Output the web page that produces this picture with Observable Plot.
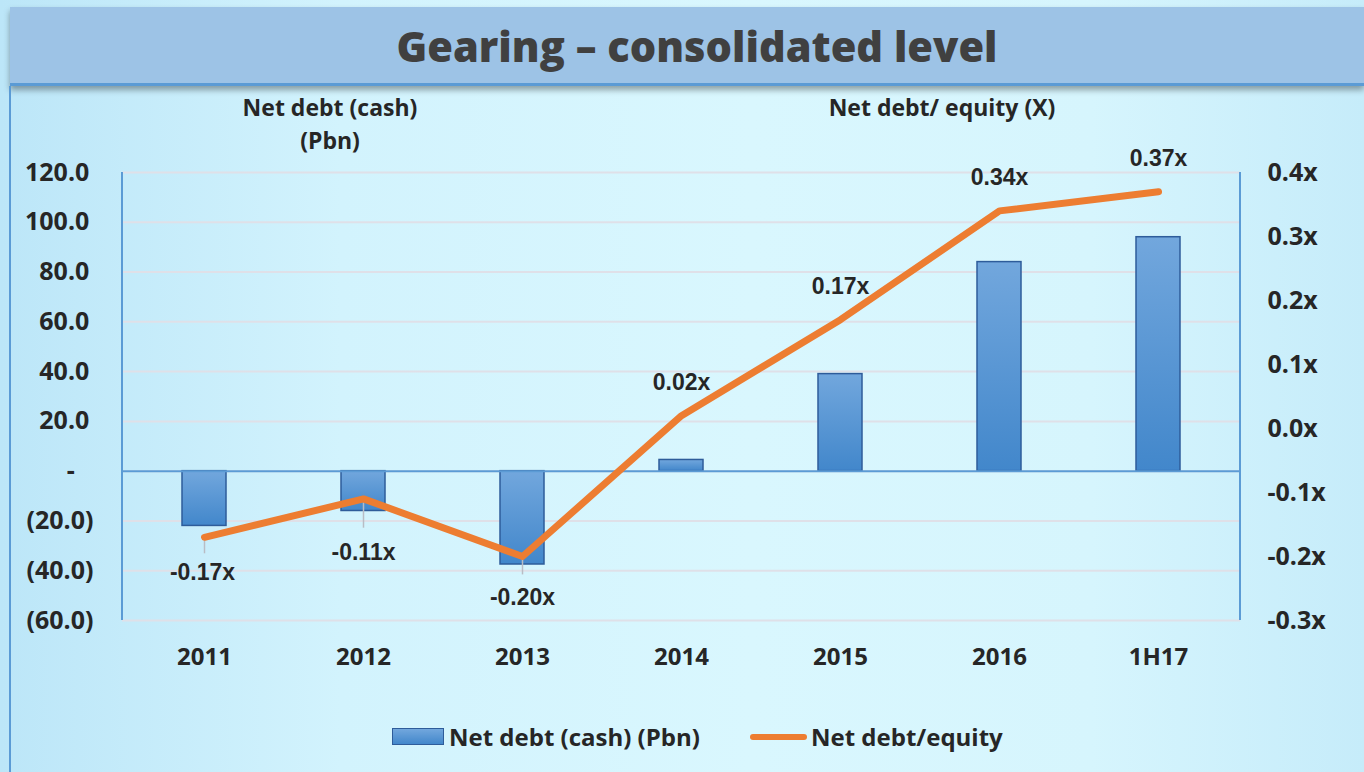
<!DOCTYPE html>
<html>
<head>
<meta charset="utf-8">
<script src="https://cdn.jsdelivr.net/npm/d3@7"></script>
<script src="https://cdn.jsdelivr.net/npm/@observablehq/plot@0.6"></script>
<style>
  html, body { margin: 0; padding: 0; }
  #page {
    position: relative; width: 1364px; height: 772px; overflow: hidden;
    background: linear-gradient(to right, #bce6f8 0%, #d2f3fd 25%, #d9f7fe 55%, #d6f5fd 80%, #c6ecfa 100%);
    font-family: "Open Sans", Lato, sans-serif; color: #262626;
  }
  #titlebar {
    position: absolute; left: 10px; top: 7px; right: 0; height: 76px;
    background: #9dc3e6; border-bottom: 3px solid #5b9bd5;
    box-shadow: 0 4px 6px rgba(0,0,0,0.35);
  }
  #title {
    position: absolute; left: 697px; top: 47px;
    font-weight: 800; font-size: 44px; color: #404040; white-space: nowrap; line-height: 1;
  }
  #leftborder { position: absolute; left: 9px; top: 86px; bottom: 0; width: 2px; background: #5b9bd5; }
  #chart { position: absolute; left: 0; top: 0; }
  .atitle { position: absolute; font-weight: bold; font-size: 23px; text-align: center; line-height: 33px; white-space: nowrap; transform: translateX(-50%); }
  #legend { position: absolute; top: 722px; left: 0; width: 1364px; height: 30px; font-weight: bold; font-size: 24px; }
  .lg { position: absolute; white-space: nowrap; line-height: 30px; }
</style>
</head>
<body>
<div id="page">
  <div id="titlebar"></div>
  <div id="title">Gearing – consolidated level</div>
  <div id="leftborder"></div>
  <div id="chart"></div>
  <div class="atitle" style="left:330px; top:91px;">Net debt (cash)<br>(Pbn)</div>
  <div class="atitle" style="left:942px; top:91px;">Net debt/ equity (X)</div>
  <div id="legend">
    <div class="lg" style="left:392px; top:6px; width:52px; height:17px; border:1.5px solid #2e5c9a; background:linear-gradient(#72a7dd,#4287cb); box-sizing:border-box;"></div>
    <div class="lg" style="left:449px; top:0;">Net debt (cash) (Pbn)</div>
    <div class="lg" style="left:750px; top:12px; width:57px; height:6px; border-radius:3px; background:#ed7d31;"></div>
    <div class="lg" style="left:811px; top:0;">Net debt/equity</div>
  </div>
</div>
<script>
const categories = ["2011", "2012", "2013", "2014", "2015", "2016", "1H17"];
const netDebt = [-22, -16, -37.5, 4.5, 39, 84, 94];
const netDebtEquity = [-0.17, -0.11, -0.20, 0.02, 0.17, 0.34, 0.37];
const ratioLabels = ["-0.17x", "-0.11x", "-0.20x", "0.02x", "0.17x", "0.34x", "0.37x"];
const leftTicks = [-60, -40, -20, 0, 20, 40, 60, 80, 100, 120];
const leftTickLabels = ["(60.0)", "(40.0)", "(20.0)", "-\u2002\u2005", "20.0\u2006", "40.0\u2006", "60.0\u2006", "80.0\u2006", "100.0\u2006", "120.0\u2006"];
const rightTicks = [-0.3, -0.2, -0.1, 0.0, 0.1, 0.2, 0.3, 0.4];
const rightTickLabels = ["-0.3x", "-0.2x", "-0.1x", "0.0x", "0.1x", "0.2x", "0.3x", "0.4x"];
// leader line end points (in ratio units) for labels placed below the line
const leaderEnds = [-0.195, -0.155, -0.228, null, null, null, null];

const yDomain = [-60, 120];
const rDomain = [-0.3, 0.4];
const toLeft = r => yDomain[0] + (r - rDomain[0]) * (yDomain[1] - yDomain[0]) / (rDomain[1] - rDomain[0]);

const data = categories.map((c, i) => ({
  cat: c, debt: netDebt[i], ratio: netDebtEquity[i], label: ratioLabels[i], leader: leaderEnds[i], i
}));
const leftMap = new Map(leftTicks.map((v, i) => [v, leftTickLabels[i]]));
const rightMap = new Map(rightTicks.map((v, i) => [Math.round(toLeft(v) * 1000), rightTickLabels[i]]));

const labelFont = {fontFamily: "'Liberation Sans', Arial, sans-serif", fontSize: 23, fontWeight: "bold", fill: "#262626", ariaLabel: "ratio-labels"};

const axisLines = (index, scales, values, dims) => {
  const {width, height, marginLeft, marginRight, marginTop, marginBottom} = dims;
  const g = d3.create("svg:g");
  for (const x of [marginLeft, width - marginRight]) {
    g.append("line").attr("x1", x).attr("x2", x).attr("y1", marginTop).attr("y2", height - marginBottom)
      .attr("stroke", "#5b9bd5").attr("stroke-width", 2);
  }
  return g.node();
};

const chart = Plot.plot({
  width: 1364, height: 772,
  marginTop: 172, marginBottom: 152, marginLeft: 122, marginRight: 124,
  style: {fontFamily: "'Open Sans', Lato, sans-serif", fontSize: "25px", fontWeight: "bold", color: "#262626", background: "transparent", overflow: "visible"},
  x: {domain: categories, paddingInner: 0.725, paddingOuter: 0.3625},
  y: {domain: yDomain},
  marks: [
    Plot.gridY(leftTicks, {stroke: "#dfe0e8", strokeOpacity: 1, strokeWidth: 2}),
    Plot.barY(data, {x: "cat", y: "debt", fill: "url(#barGrad)", stroke: "#2e5c9a", strokeWidth: 1.5}),
    Plot.ruleY([0], {stroke: "#5b9bd5", strokeWidth: 2}),
    axisLines,
    Plot.axisY(leftTicks, {anchor: "left", tickSize: 0, tickPadding: 29, tickFormat: d => leftMap.get(d), fontSize: 25, fontWeight: "bold", label: null}),
    Plot.axisY(rightTicks.map(toLeft), {anchor: "right", tickSize: 0, tickPadding: 27, tickFormat: d => rightMap.get(Math.round(d * 1000)), fontSize: 25, fontWeight: "bold", label: null}),
    Plot.axisX({anchor: "bottom", tickSize: 0, tickPadding: 27, fontSize: 24, fontWeight: "bold", label: null}),
    Plot.link(data.filter(d => d.leader != null), {x1: "cat", x2: "cat", y1: d => toLeft(d.ratio), y2: d => toLeft(d.leader), stroke: "#b9bcc4", strokeWidth: 1.5}),
    Plot.lineY(data, {x: "cat", y: d => toLeft(d.ratio), stroke: "#ed7d31", strokeWidth: 7, strokeLinecap: "round", strokeLinejoin: "round"}),
    Plot.text(data.filter(d => d.ratio >= 0), {x: "cat", y: d => toLeft(d.ratio), text: "label", dy: -33, ...labelFont}),
    Plot.text(data.filter(d => d.cat === "2011"), {x: "cat", y: d => toLeft(d.ratio), text: "label", dy: 35, dx: -2, ...labelFont}),
    Plot.text(data.filter(d => d.cat === "2012"), {x: "cat", y: d => toLeft(d.ratio), text: "label", dy: 54, ...labelFont}),
    Plot.text(data.filter(d => d.cat === "2013"), {x: "cat", y: d => toLeft(d.ratio), text: "label", dy: 41, ...labelFont})
  ]
});
d3.select(chart).insert("defs", ":first-child").html(
  '<linearGradient id="barGrad" x1="0" y1="0" x2="0" y2="1"><stop offset="0" stop-color="#72a7dd"/><stop offset="1" stop-color="#4287cb"/></linearGradient>'
);
// narrow the data-label glyphs (reference uses a narrow face)
d3.select(chart).selectAll('g[aria-label="ratio-labels"] text').each(function() {
  const tr = this.getAttribute("transform") || "";
  this.setAttribute("transform", tr + " scale(0.8,1)");
});
document.getElementById("chart").appendChild(chart);

// fit title width to reference proportions
const t = document.getElementById("title");
const w0 = t.offsetWidth;
t.style.fontSize = (44 * 601 / w0) + "px";
const w = t.offsetWidth, h = t.offsetHeight;
t.style.transform = `translate(${-w / 2}px, ${-h / 2}px)`;
</script>
</body>
</html>
